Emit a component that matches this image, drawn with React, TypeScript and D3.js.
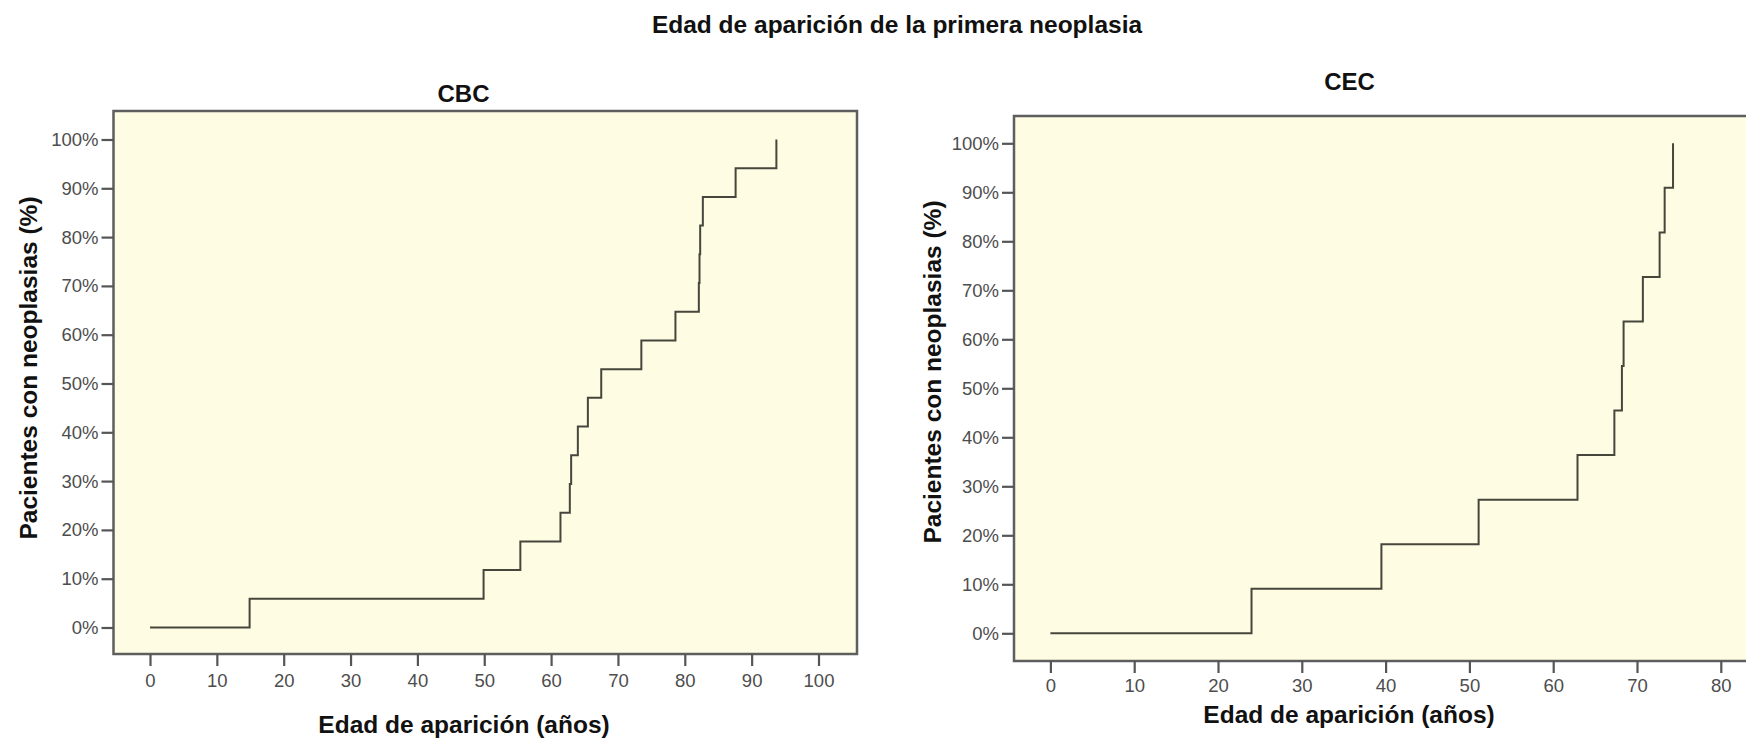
import React, { useEffect, useRef } from "react";
import * as d3 from "d3";

// ages (years) at which each patient got the first neoplasia
const cbcAges = [14.9, 49.9, 55.4, 61.4, 62.8, 63.0, 64.0, 65.5, 67.5, 73.5, 78.6, 82.1, 82.2, 82.3, 82.7, 87.6, 93.7];
const cecAges = [24.0, 39.5, 51.1, 62.9, 67.3, 68.2, 68.4, 70.7, 72.7, 73.3, 74.3];

const cbcXTicks = [0, 10, 20, 30, 40, 50, 60, 70, 80, 90, 100];
const cecXTicks = [0, 10, 20, 30, 40, 50, 60, 70, 80];
const yTicks = [0, 10, 20, 30, 40, 50, 60, 70, 80, 90, 100];

const mainTitle = "Edad de aparición de la primera neoplasia";
const xTitle = "Edad de aparición (años)";
const yTitle = "Pacientes con neoplasias (%)";

const W = 1746;
const H = 743;
const FONT = "'Liberation Sans', Arial, sans-serif";

const panels = [
  {
    name: "CBC",
    ages: cbcAges,
    xTicks: cbcXTicks,
    xDomain: [0, 100], xRange: [150, 818.5],
    yRange: [627.5, 139.5],
    frame: { x0: 113.5, x1: 857, y0: 111, y1: 654 },
    titleX: 463.5, titleY: 102,
    xTitleX: 464, xTitleY: 733,
    yTitleX: 37, yTitleY: 368,
    tickLabelY: 20,
  },
  {
    name: "CEC",
    ages: cecAges,
    xTicks: cecXTicks,
    xDomain: [0, 80], xRange: [1050.4, 1720.8],
    yRange: [633.3, 143.3],
    frame: { x0: 1014, x1: 1810, y0: 116, y1: 661 },
    titleX: 1349.5, titleY: 90,
    xTitleX: 1349, xTitleY: 723,
    yTitleX: 941, yTitleY: 372,
    tickLabelY: 18,
  },
];

const App = () => {
  const svgRef = useRef<SVGSVGElement>(null);

  useEffect(() => {
    const svg = d3.select(svgRef.current);
    svg.selectAll("*").remove();

    svg
      .append("text")
      .attr("x", 897)
      .attr("y", 33)
      .attr("text-anchor", "middle")
      .style("font", `bold 24.5px ${FONT}`)
      .attr("fill", "#111")
      .text(mainTitle);

    panels.forEach((p) => {
      const x = d3.scaleLinear().domain(p.xDomain).range(p.xRange);
      const y = d3.scaleLinear().domain([0, 100]).range(p.yRange);
      const g = svg.append("g");
      const f = p.frame;

      g.append("rect")
        .attr("x", f.x0)
        .attr("y", f.y0)
        .attr("width", f.x1 - f.x0)
        .attr("height", f.y1 - f.y0)
        .attr("fill", "#fefde4")
        .attr("stroke", "#5e5e5e")
        .attr("stroke-width", 2.5);

      // y axis
      const yAxis = d3
        .axisLeft(y)
        .tickValues(yTicks)
        .tickSize(12)
        .tickPadding(3)
        .tickFormat((d) => `${d}%`);
      const ya = g.append("g").attr("transform", `translate(${f.x0},0)`).call(yAxis);
      ya.select(".domain").remove();
      ya.selectAll("line").attr("stroke", "#555").attr("stroke-width", 2.2);
      ya.selectAll("text")
        .attr("fill", "#4d4d4d")
        .style("font", `18.5px ${FONT}`);

      // x axis
      const xAxis = d3.axisBottom(x).tickValues(p.xTicks).tickSize(12);
      const xa = g.append("g").attr("transform", `translate(0,${f.y1})`).call(xAxis);
      xa.select(".domain").remove();
      xa.selectAll("line").attr("stroke", "#555").attr("stroke-width", 2.2);
      xa.selectAll("text")
        .attr("y", p.tickLabelY)
        .attr("fill", "#4d4d4d")
        .style("font", `18.5px ${FONT}`);

      // cumulative step curve
      const n = p.ages.length;
      const pts: [number, number][] = [[0, 0], ...p.ages.map((a, i) => [a, ((i + 1) / n) * 100] as [number, number])];
      const line = d3
        .line<[number, number]>()
        .x((d) => x(d[0]))
        .y((d) => y(d[1]))
        .curve(d3.curveStepAfter);
      g.append("path")
        .attr("d", line(pts))
        .attr("fill", "none")
        .attr("stroke", "#46463c")
        .attr("stroke-width", 2);

      g.append("text")
        .attr("x", p.titleX)
        .attr("y", p.titleY)
        .attr("text-anchor", "middle")
        .style("font", `bold 24px ${FONT}`)
        .attr("fill", "#111")
        .text(p.name);

      g.append("text")
        .attr("x", p.xTitleX)
        .attr("y", p.xTitleY)
        .attr("text-anchor", "middle")
        .style("font", `bold 24.5px ${FONT}`)
        .attr("fill", "#111")
        .text(xTitle);

      g.append("text")
        .attr("transform", `translate(${p.yTitleX},${p.yTitleY}) rotate(-90)`)
        .attr("text-anchor", "middle")
        .style("font", `bold 24.5px ${FONT}`)
        .attr("fill", "#111")
        .text(yTitle);
    });
  }, []);

  return (
    <svg
      ref={svgRef}
      width={W}
      height={H}
      style={{ position: "absolute", left: 0, top: 0, background: "#fff" }}
    ></svg>
  );
};

export default App;
